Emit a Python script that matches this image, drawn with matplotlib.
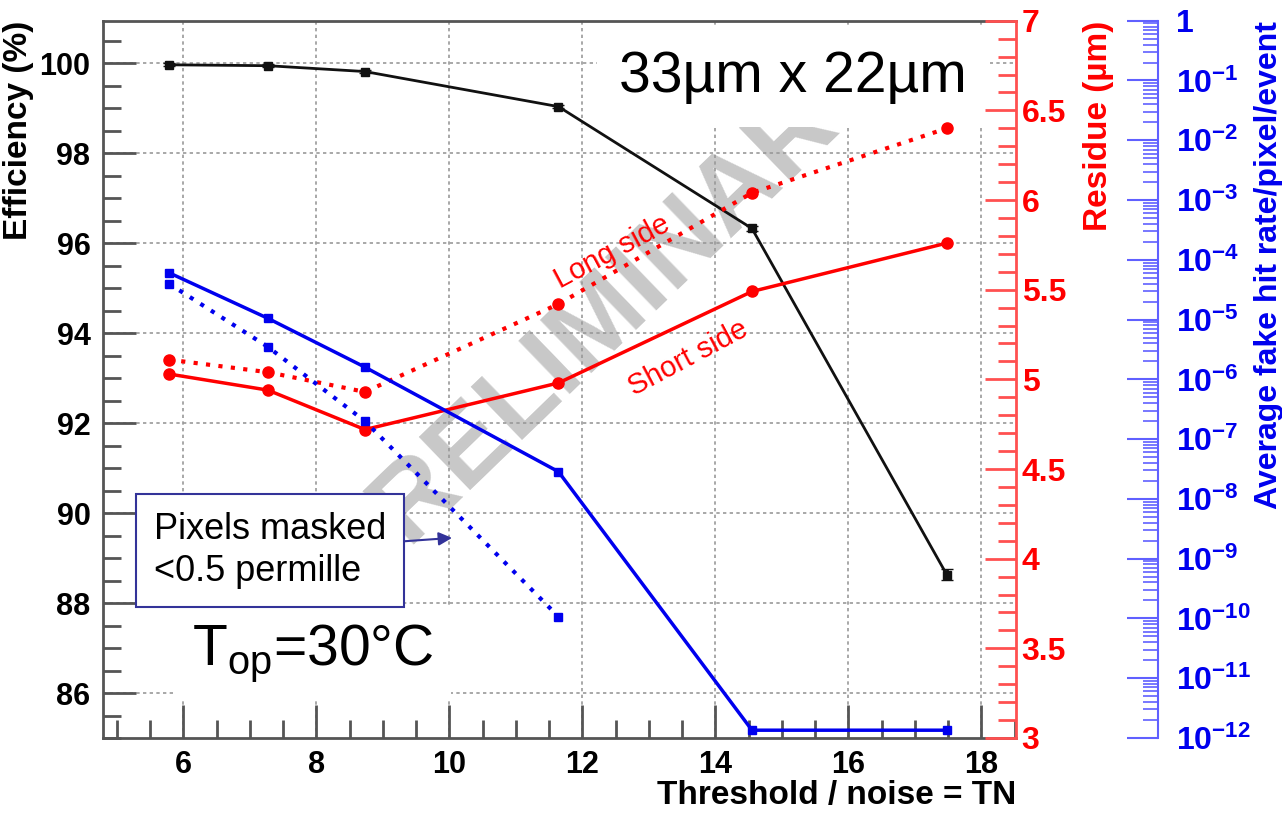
import numpy as np
import matplotlib
matplotlib.use('Agg')
import matplotlib.pyplot as plt
from matplotlib.ticker import MultipleLocator, LogLocator, FuncFormatter, NullFormatter

plt.rcParams['font.family'] = ['Liberation Sans', 'DejaVu Sans']
plt.rcParams['font.weight'] = 'bold'
plt.rcParams['axes.labelweight'] = 'bold'
plt.rcParams['mathtext.fontset'] = 'custom'
plt.rcParams['mathtext.rm'] = 'Liberation Sans'
plt.rcParams['mathtext.bf'] = 'Liberation Sans:bold'
plt.rcParams['mathtext.it'] = 'Liberation Sans:italic'

# threshold / noise points
tn = [5.78, 7.27, 8.73, 11.64, 14.55, 17.48]
efficiency = [99.97, 99.95, 99.82, 99.04, 96.33, 88.63]
efficiency_err = [0.03, 0.03, 0.03, 0.04, 0.05, 0.12]
residue_long = [5.11, 5.04, 4.93, 5.42, 6.04, 6.40]
residue_short = [5.03, 4.94, 4.72, 4.98, 5.49, 5.76]
fake_rate = [6.1e-5, 1.05e-5, 1.6e-6, 2.85e-8, 1.35e-12, 1.35e-12]
tn_masked = [5.78, 7.27, 8.73, 11.64]
fake_rate_masked = [4.0e-5, 3.5e-6, 2.0e-7, 1.07e-10]

red = '#ff0000'
blue = '#0000ee'
grey = '#555555'

fig = plt.figure(figsize=(12.82, 8.16), dpi=100)
ax = fig.add_axes([0.0803, 0.0956, 0.7122, 0.879])

# ---- efficiency (left axis) ----
ax.set_xlim(4.79, 18.52)
ax.set_ylim(85, 100.95)
ax.xaxis.set_major_locator(MultipleLocator(2))
ax.xaxis.set_minor_locator(MultipleLocator(0.5))
ax.yaxis.set_major_locator(MultipleLocator(2))
ax.yaxis.set_minor_locator(MultipleLocator(0.5))
ax.tick_params(which='major', direction='in', length=24, width=2, color=grey,
               labelsize=22, right=False, top=False)
ax.tick_params(which='minor', direction='in', length=13, width=2, color=grey,
               right=False, top=False)
ax.tick_params(axis='y', pad=9)
ax.tick_params(axis='x', pad=9)
ax.set_axisbelow(True)
ax.grid(True, which='major', linestyle=(0, (2, 2)), color='#999999', linewidth=1.2)
for s in ['left', 'top', 'bottom']:
    ax.spines[s].set_color(grey)
    ax.spines[s].set_linewidth(2)
ax.spines['right'].set_visible(False)

ax.text(0.548, 0.588, 'PRELIMINARY', transform=ax.transAxes, rotation=44,
        fontsize=78, color='#c8c8c8', ha='center', va='center', zorder=0.3)

ax.errorbar(tn, efficiency, yerr=efficiency_err, color='#111111', lw=2,
            marker='s', ms=6, capsize=4, zorder=3)

ax.set_ylabel('Efficiency (%)', fontsize=24, loc='top', labelpad=4)
ax.set_xlabel('Threshold / noise = TN', fontsize=24, loc='right', labelpad=0)

ax.text(0.756, 0.901, '33µm x 22µm', transform=ax.transAxes, fontsize=41,
        fontweight='normal', ha='center', va='baseline', zorder=4,
        bbox=dict(facecolor='white', edgecolor='none', boxstyle='square,pad=0.4'))
ax.text(0.0975, 0.102, r'T$_\mathregular{op}$=30°C', transform=ax.transAxes,
        fontsize=41, fontweight='normal', ha='left', va='baseline', zorder=4,
        bbox=dict(facecolor='white', edgecolor='none', boxstyle='square,pad=0.3'))
ax.annotate('Pixels masked\n<0.5 permille', xy=(10.04, 89.45), xycoords='data',
            xytext=(0.183, 0.261), textcoords='axes fraction', ha='center', va='center',
            multialignment='left', fontsize=26, fontweight='normal', linespacing=1.25,
            zorder=4,
            bbox=dict(boxstyle='square,pad=0.5', facecolor='white', edgecolor='#333399', lw=1.5),
            arrowprops=dict(arrowstyle='-|>', color='#333399', lw=1.5, mutation_scale=20,
                            shrinkA=0, shrinkB=0))
ax.text(0.5575, 0.6775, 'Long side', transform=ax.transAxes, rotation=28,
        fontsize=21, fontweight='normal', color=red, ha='center', va='center', zorder=3)
ax.text(0.6407, 0.5298, 'Short side', transform=ax.transAxes, rotation=28,
        fontsize=21, fontweight='normal', color=red, ha='center', va='center', zorder=3)

# ---- residue (red axis) ----
ax_r = ax.twinx()
ax_r.set_ylim(3, 7)
ax_r.yaxis.set_major_locator(MultipleLocator(0.5))
ax_r.yaxis.set_minor_locator(MultipleLocator(0.1))
ax_r.yaxis.set_major_formatter(FuncFormatter(lambda v, p: '%g' % v))
ax_r.tick_params(which='major', direction='in', length=22, width=2, color='#ff5050',
                 labelcolor=red, labelsize=23, pad=4)
ax_r.tick_params(which='minor', direction='in', length=13, width=2, color='#ff5050')
for s in ['left', 'top', 'bottom']:
    ax_r.spines[s].set_visible(False)
ax_r.spines['right'].set_color('#ff5050')
ax_r.spines['right'].set_linewidth(2)
ax_r.plot(tn, residue_long, color=red, lw=3, ls=(0, (1, 2)), marker='o', ms=8)
ax_r.plot(tn, residue_short, color=red, lw=2.5, marker='o', ms=8)
ax_r.set_ylabel('Residue (µm)', color=red, fontsize=24, loc='top', labelpad=12)

# ---- fake hit rate (blue log axis) ----
ax_b = ax.twinx()
ax_b.set_yscale('log')
ax_b.set_ylim(1e-12, 1)
ax_b.spines['right'].set_position(('axes', 1.156))
for s in ['left', 'top', 'bottom']:
    ax_b.spines[s].set_visible(False)
ax_b.spines['right'].set_color('#6060ff')
ax_b.spines['right'].set_linewidth(1.5)
ax_b.yaxis.set_major_locator(LogLocator(base=10, numticks=20))
ax_b.yaxis.set_minor_locator(LogLocator(base=10, subs=np.arange(2, 10), numticks=20))
ax_b.yaxis.set_minor_formatter(NullFormatter())


def decade_label(v, pos):
    e = int(round(np.log10(v)))
    if e == 0:
        return '1'
    return r'$\mathbf{10^{%d}}$' % e


ax_b.yaxis.set_major_formatter(FuncFormatter(decade_label))
ax_b.tick_params(which='major', direction='in', length=22, width=1.5, color='#6060ff',
                 labelcolor=blue, labelsize=23, pad=13)
ax_b.tick_params(which='minor', direction='in', length=11, width=1.2, color='#6060ff')
ax_b.plot(tn, fake_rate, color=blue, lw=2.5, marker='s', ms=6)
ax_b.plot(tn_masked, fake_rate_masked, color=blue, lw=3, ls=(0, (1, 2)), marker='s', ms=6)
ax_b.set_ylabel('Average fake hit rate/pixel/event', color=blue, fontsize=23,
                loc='top', labelpad=2)

fig.savefig('out.png', dpi=100)
